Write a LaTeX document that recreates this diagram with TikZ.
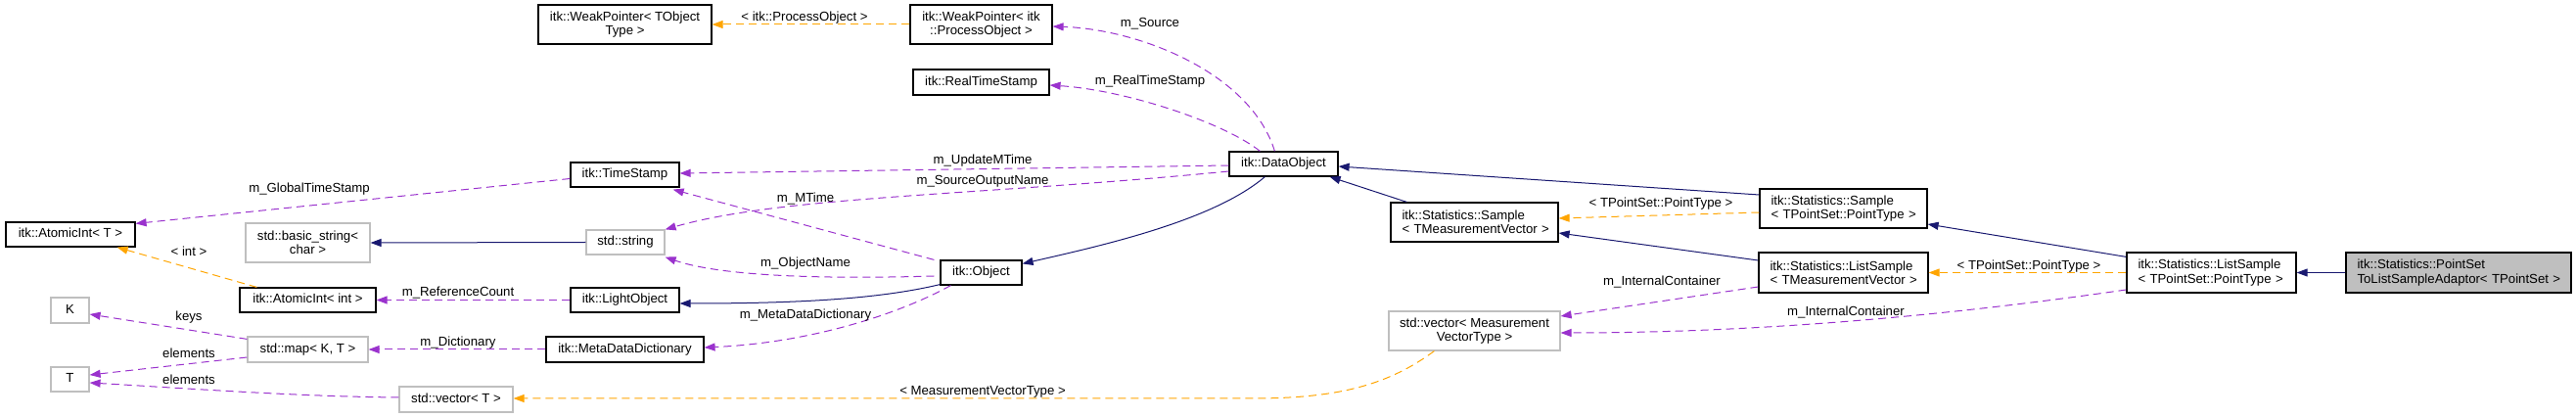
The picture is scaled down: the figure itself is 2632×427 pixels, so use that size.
\documentclass[tikz,border=0pt]{standalone}
\usepackage{fontspec}
\setmainfont{Liberation Sans}
\usetikzlibrary{arrows.meta,calc}
\definecolor{navy}{HTML}{191970}
\definecolor{purp}{HTML}{9A32CD}
\definecolor{orng}{HTML}{FFA500}
\definecolor{grb}{HTML}{BFBFBF}
\begin{document}
\begin{tikzpicture}[x=1pt,y=-1pt,
  every node/.style={font=\fontsize{13.2}{14.3}\selectfont, inner sep=0pt},
  clsbox/.style={draw=black, line width=1.2pt, fill=white, align=center},
  extbox/.style={clsbox, draw=grb},
  onel/.style={text height=9.5pt, text depth=2.8pt},
  lalign/.style={align=left, inner xsep=11.5pt, text width=#1},
  lbl/.style={text height=9.5pt, text depth=2.8pt},
  inhedge/.style={draw=navy, line width=1pt, -{Triangle[length=11pt,width=8pt]}},
  useedge/.style={draw=purp, line width=1pt, dash pattern=on 8pt off 5pt, -{Triangle[length=11pt,width=8pt]}},
  tpledge/.style={draw=orng, line width=1pt, dash pattern=on 8pt off 5pt, -{Triangle[length=11pt,width=8pt]}}
]
\useasboundingbox (0,0) rectangle (2632,427);

% nodes
\node[clsbox, minimum width=177pt, minimum height=40pt] (wpT) at (638.5,25) {itk::WeakPointer< TObject\\Type >};
\node[clsbox, minimum width=145pt, minimum height=40pt] (wpP) at (1002.5,25) {itk::WeakPointer< itk\\::ProcessObject >};
\node[clsbox, onel, minimum width=139pt, minimum height=26pt] (rts) at (1002.5,84) {itk::RealTimeStamp};
\node[clsbox, onel, minimum width=111pt, minimum height=25pt] (ts) at (638.5,178.5) {itk::TimeStamp};
\node[clsbox, onel, minimum width=111pt, minimum height=25pt] (dobj) at (1311.5,167.5) {itk::DataObject};
\node[clsbox, onel, minimum width=132pt, minimum height=25pt] (aiT) at (72,239.5) {itk::AtomicInt< T >};
\node[extbox, minimum width=127pt, minimum height=40pt] (bstr) at (314.5,248) {std::basic\_string<\\char >};
\node[extbox, onel, minimum width=80pt, minimum height=25pt] (str) at (639,247.5) {std::string};
\node[clsbox, onel, minimum width=139pt, minimum height=25pt] (aiI) at (314.5,306.5) {itk::AtomicInt< int >};
\node[clsbox, onel, minimum width=111pt, minimum height=25pt] (lo) at (638.5,306.5) {itk::LightObject};
\node[clsbox, onel, minimum width=83pt, minimum height=25pt] (obj) at (1002.5,278.5) {itk::Object};
\node[extbox, onel, minimum width=39pt, minimum height=26pt] (K) at (71.5,317) {K};
\node[extbox, onel, minimum width=123pt, minimum height=26pt] (map) at (314.5,357) {std::map< K, T >};
\node[clsbox, onel, minimum width=161pt, minimum height=26pt] (mdd) at (638.5,357) {itk::MetaDataDictionary};
\node[extbox, onel, minimum width=39pt, minimum height=25pt] (T) at (71.5,387.5) {T};
\node[extbox, onel, minimum width=116pt, minimum height=26pt] (vecT) at (466,408) {std::vector< T >};
\node[clsbox, lalign=148pt, minimum height=40pt] (sTMV) at (1506.5,227) {\mbox{itk::Statistics::Sample}\\\mbox{< TMeasurementVector >}};
\node[extbox, minimum width=175pt, minimum height=40pt] (vecM) at (1506.5,338) {std::vector< Measurement\\VectorType >};
\node[clsbox, lalign=148pt, minimum height=40pt] (sTPS) at (1883.5,213) {\mbox{itk::Statistics::Sample}\\\mbox{< TPointSet::PointType >}};
\node[clsbox, lalign=150pt, minimum height=41pt] (lsTMV) at (1883.5,278.5) {\mbox{itk::Statistics::ListSample}\\\mbox{< TMeasurementVector >}};
\node[clsbox, lalign=150pt, minimum height=41pt] (lsTPS) at (2259.5,278.5) {\mbox{itk::Statistics::ListSample}\\\mbox{< TPointSet::PointType >}};
\node[clsbox, fill=grb, lalign=207pt, minimum height=41pt] (adapt) at (2512,278.5) {\mbox{itk::Statistics::PointSet}\\\mbox{ToListSampleAdaptor< TPointSet >}};

\coordinate (bend) at (1280,407);

% edges
\draw[useedge] ($(dobj.north west)+(47,0)$) .. controls (1278,75) and (1165,30) .. ($(wpP.east)+(0,2)$);
\draw[useedge] ($(dobj.north west)+(32,0)$) .. controls (1250,125) and (1150,92) .. ($(rts.east)+(0,3)$);
\draw[useedge] ($(dobj.west)+(0,1.5)$) -- ($(ts.east)+(0,-1.5)$);
\draw[useedge] ($(dobj.west)+(0,7.5)$) .. controls (1000,200) and (800,200) .. (str.north east);
\draw[useedge] ($(obj.north west)+(-6,0)$) -- ($(ts.south east)+(-7,2)$);
\draw[useedge] ($(obj.west)+(-6,3.5)$) .. controls (820,286) and (730,280) .. ($(str.south east)+(0,2)$);
\draw[useedge] ($(obj.south west)+(11,0)$) .. controls (920,320) and (830,350) .. ($(mdd.east)+(0,-2)$);
\draw[inhedge] ($(dobj.south west)+(37,0)$) .. controls (1240,225) and (1130,250) .. ($(obj.north east)+(0,4)$);
\draw[inhedge] ($(obj.south west)+(0,-1)$) .. controls (900,305) and (820,310) .. ($(lo.east)+(0,3.5)$);
\draw[useedge] (lo.west) -- (aiI.east);
\draw[useedge] ($(ts.west)+(0,4)$) -- ($(aiT.north east)+(0,2)$);
\draw[useedge] (mdd.west) -- (map.east);
\draw[useedge] ($(map.north west)+(0,3)$) -- ($(K.east)+(0,4)$);
\draw[useedge] ($(map.west)+(0,8)$) -- ($(T.east)+(0,-4.5)$);
\draw[useedge] ($(vecT.west)+(0,-2)$) .. controls (300,405) and (180,396) .. ($(T.east)+(0,3.5)$);
\draw[tpledge] ($(aiI.north west)+(18,0)$) -- ($(aiT.south east)+(-19,0)$);
\draw[inhedge] (str.west) -- (bstr.east);
\draw[tpledge] (wpP.west) -- (wpT.east);
\draw[tpledge] ($(vecM.south west)+(47,0)$) .. controls (1420,392) and (1370,407) .. (bend) -- ($(vecT.east)+(0,-1)$);
\draw[inhedge] ($(sTPS.west)+(0,-14)$) -- ($(dobj.east)+(0,2.5)$);
\draw[inhedge] ($(sTMV.north west)+(17,0)$) -- ($(dobj.south east)+(-9,0)$);
\draw[tpledge] ($(sTPS.west)+(0,4)$) -- ($(sTMV.east)+(0,-4)$);
\draw[inhedge] ($(lsTMV.west)+(0,-12.5)$) -- ($(sTMV.east)+(0,11)$);
\draw[useedge] ($(lsTMV.west)+(0,14.5)$) -- ($(vecM.east)+(0,-15)$);
\draw[useedge] ($(lsTPS.west)+(0,17.5)$) .. controls (2020,318) and (1820,340) .. ($(vecM.east)+(0,2)$);
\draw[tpledge] (lsTPS.west) -- (lsTMV.east);
\draw[inhedge] ($(lsTPS.north west)+(0,5)$) -- ($(sTPS.east)+(0,16)$);
\draw[inhedge] (adapt.west) -- (lsTPS.east);

% labels
\node[lbl] (l1) at (1175,24) {m\_Source};
\node[lbl] (l2) at (1175,83) {m\_RealTimeStamp};
\node[lbl] (l3) at (1004,164) {m\_UpdateMTime};
\node[lbl] (l4) at (1004,185) {m\_SourceOutputName};
\node[lbl] (l5) at (823,203) {m\_MTime};
\node[lbl] (l6) at (823,269) {m\_ObjectName};
\node[lbl] (l7) at (823,322) {m\_MetaDataDictionary};
\node[lbl] (l8) at (822,18) {< itk::ProcessObject >};
\node[lbl] (l9) at (1004,400) {< MeasurementVectorType >};
\node[lbl] (l10) at (316,193) {m\_GlobalTimeStamp};
\node[lbl] (l11) at (193,258) {< int >};
\node[lbl] (l12) at (468,299) {m\_ReferenceCount};
\node[lbl] (l13) at (468,350) {m\_Dictionary};
\node[lbl] (l14) at (193,324) {keys};
\node[lbl] (l15) at (193,362) {elements};
\node[lbl] (l16) at (193,389) {elements};
\node[lbl] (l17) at (1697,208) {< TPointSet::PointType >};
\node[lbl] (l18) at (1698,288) {m\_InternalContainer};
\node[lbl] (l19) at (1886,319) {m\_InternalContainer};
\node[lbl] (l20) at (2073,272) {< TPointSet::PointType >};
\end{tikzpicture}
\end{document}
